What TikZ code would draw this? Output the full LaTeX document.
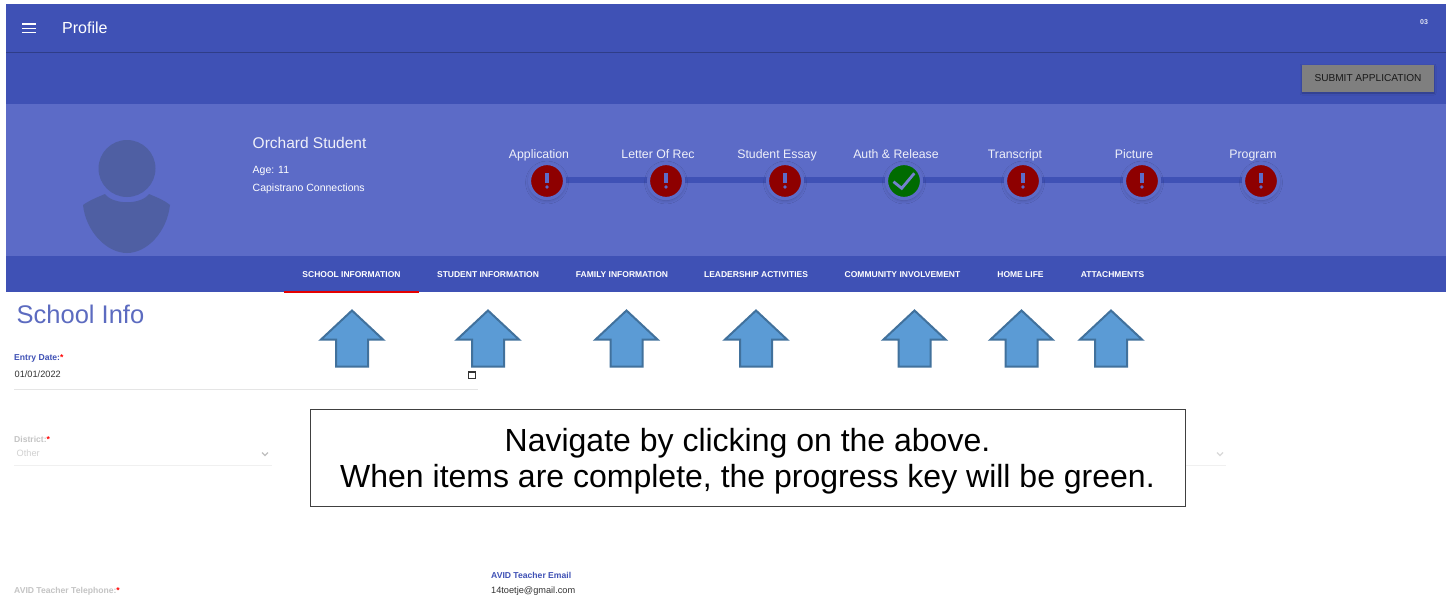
\documentclass[tikz,border=0pt]{standalone}
\usepackage{fontspec}
\setmainfont{Liberation Sans}
\usetikzlibrary{shadows.blur}
\definecolor{barblue}{HTML}{3F51B5}
\definecolor{panelblue}{HTML}{5C6BC7}
\definecolor{avatarblue}{HTML}{4F5FA3}
\definecolor{alertred}{HTML}{8E0000}
\definecolor{okgreen}{HTML}{006B00}
\definecolor{arrowfill}{HTML}{5B9BD5}
\definecolor{arrowline}{HTML}{41719C}
\definecolor{submitgray}{HTML}{7F7F7F}
\definecolor{faded}{HTML}{C4C4C4}
\tikzset{
  x=1pt,y=-1pt,
  uitext/.style={inner sep=0pt,font=\fontsize{#1}{#1}\selectfont,text=white},
  uitext/.default=11,
  steplabel/.style={uitext=12.3,anchor=base,text=white!90!panelblue},
  tablabel/.style={inner sep=0pt,anchor=base,text=white,font=\fontsize{8.5}{8.5}\selectfont\bfseries},
  formlabel/.style={inner sep=0pt,anchor=west,font=\fontsize{8.6}{8.6}\selectfont\bfseries},
  formvalue/.style={inner sep=0pt,anchor=west,font=\fontsize{9.2}{9.2}\selectfont,text=black!80},
  fieldline/.style={draw=black!10,line width=0.8pt},
  stepdot/.style={circle,minimum size=35pt,inner sep=0pt,outer sep=0pt,draw=panelblue,line width=3.2pt,blur shadow={shadow blur steps=8,shadow xshift=0pt,shadow yshift=-1.5pt,shadow scale=1.02,shadow blur radius=3.5pt,shadow opacity=22}},
  notice/.style={draw=black!75,line width=1pt,fill=white,minimum width=875pt,minimum height=97pt,inner sep=0pt,align=center,font=\fontsize{32}{36}\selectfont},
  uparrow/.pic={\draw[fill=arrowfill,draw=arrowline,line width=2pt,line join=miter] (0,0) -- (31,29) -- (16,29) -- (16,56) -- (-16,56) -- (-16,29) -- (-31,29) -- cycle;}
}
\begin{document}
\begin{tikzpicture}
\useasboundingbox (0,0) rectangle (1451,602);
\fill[white] (0,0) rectangle (1451,602);
% bands
\fill[barblue] (6,4) rectangle (1446,104);
\draw[barblue!75!black,line width=1pt] (6,53) -- (1446,53);
\fill[panelblue] (6,104) rectangle (1446,256);
\fill[barblue] (6,256) rectangle (1446,292);
\fill[red!90!black] (284,291.2) rectangle (419,292.6);
% header
\draw[white,line width=1.5pt] (22,24) -- (36,24) (22,28.3) -- (36,28.3) (22,32.6) -- (36,32.6);
\node[uitext=16,anchor=west] (title) at (62,28) {Profile};
\node[uitext=7,anchor=center,text=white!85!barblue,font=\fontsize{7}{7}\selectfont\bfseries] (acct) at (1424,22) {03};
\node[fill=submitgray,minimum width=132pt,minimum height=27pt,inner sep=0pt,font=\fontsize{10.1}{10.1}\selectfont,text=black!90,blur shadow={shadow xshift=0pt,shadow yshift=-1pt,shadow blur radius=2pt,shadow opacity=30}] (submit) at (1368,78.5) {SUBMIT APPLICATION};
% avatar
\fill[avatarblue] (127,168.5) circle[radius=28.5];
\fill[avatarblue] (83,205) .. controls (90,200) and (98,197) .. (105,194) .. controls (113,205) and (141,205) .. (149,194) .. controls (156,197) and (164,200) .. (170,205) .. controls (167,232) and (147,253) .. (127,253) .. controls (107,253) and (86,232) .. (83,205) -- cycle;
\node[uitext=15.5,anchor=west,text=white!90!panelblue] (name) at (252.5,142.5) {Orchard Student};
\node[uitext=10.5,anchor=west] (age) at (252.5,171) {Age: 11};
\node[uitext=10.5,anchor=west] (school) at (252.5,189) {Capistrano Connections};
% stepper
\coordinate (railstart) at (547,180);
\coordinate (railend) at (1261,180);
\draw[barblue,line width=6pt] (railstart) -- (railend);
\foreach \nm/\cx/\lab/\col in {sa/547/Application/alertred,sb/666/Letter Of Rec/alertred,sc/785/Student Essay/alertred,sd/904/Auth \& Release/okgreen,se/1023/Transcript/alertred,sf/1142/Picture/alertred,sg/1261/Program/alertred}{
  \node[stepdot,fill=\col] (\nm) at (\cx,181) {};
  \node[steplabel] (\nm lab) at (\cx-8,158.5) {\lab};
}
\foreach \nm in {sa,sb,sc,se,sf,sg}{
  \fill[panelblue] ([yshift=8pt]\nm.center) ++(-1.7,0) rectangle ++(3.4,10);
  \fill[panelblue] ([yshift=-6pt]\nm.center) circle[radius=1.8];
}
\draw[panelblue!85!white,line width=2.8pt,line cap=butt,line join=miter] ([shift={(-10.5,0.7)}]sd.center) -- ([shift={(-2.3,7.3)}]sd.center) -- ([shift={(10.3,-7.7)}]sd.center);
% tabs
\node[tablabel] (t1) at (351.5,277.5) {SCHOOL INFORMATION};
\node[tablabel] (t2) at (488,277.5) {STUDENT INFORMATION};
\node[tablabel] (t3) at (622,277.5) {FAMILY INFORMATION};
\node[tablabel] (t4) at (756,277.5) {LEADERSHIP ACTIVITIES};
\node[tablabel] (t5) at (902.5,277.5) {COMMUNITY INVOLVEMENT};
\node[tablabel] (t6) at (1020.5,277.5) {HOME LIFE};
\node[tablabel] (t7) at (1112.5,277.5) {ATTACHMENTS};
% form
\node[inner sep=0pt,anchor=west,font=\fontsize{25.5}{25.5}\selectfont,text=barblue!85!white] (sinfo) at (16.5,314) {School Info};
\node[formlabel,text=barblue] (entry) at (14,358) {Entry Date:\textcolor{red}{*}};
\node[formvalue] (entryv) at (14.5,374) {01/01/2022};
\draw[fieldline] (14,389) -- (478,389);
\draw[black!80,line width=0.9pt] (468,371.5) rectangle (475.5,378.5);
\fill[black!80] (468,371.5) rectangle (475.5,373.3);
\node[formlabel,text=faded] (district) at (14,439) {District:\textcolor{red}{*}};
\node[formvalue,text=black!18] (districtv) at (16.5,453) {Other};
\draw[fieldline,draw=black!6] (14,465.5) -- (272,465.5);
\draw[black!25,line width=1.2pt] (262,452.5) -- (265,455.5) -- (268,452.5);
\draw[black!15,line width=1.2pt] (1217,452.5) -- (1220,455.5) -- (1223,452.5);
\draw[fieldline,draw=black!6] (1185,465.5) -- (1226,465.5);
\node[formlabel,text=faded] (avidtel) at (14,591) {AVID Teacher Telephone:\textcolor{red}{*}};
\node[formlabel,text=barblue] (avidmail) at (491,575.5) {AVID Teacher Email};
\node[formvalue] (avidmailv) at (491,591) {14toetje@gmail.com};
% arrows
\foreach \ax in {352,488,626.5,756,914.5,1021.5,1111}{
  \pic at (\ax,310.5) {uparrow};
}
% notice
\node[notice] (note) at (747.5,457.5) {\rule{0pt}{31pt}Navigate by clicking on the above.\\When items are complete, the progress key will be green.};
\end{tikzpicture}
\end{document}
